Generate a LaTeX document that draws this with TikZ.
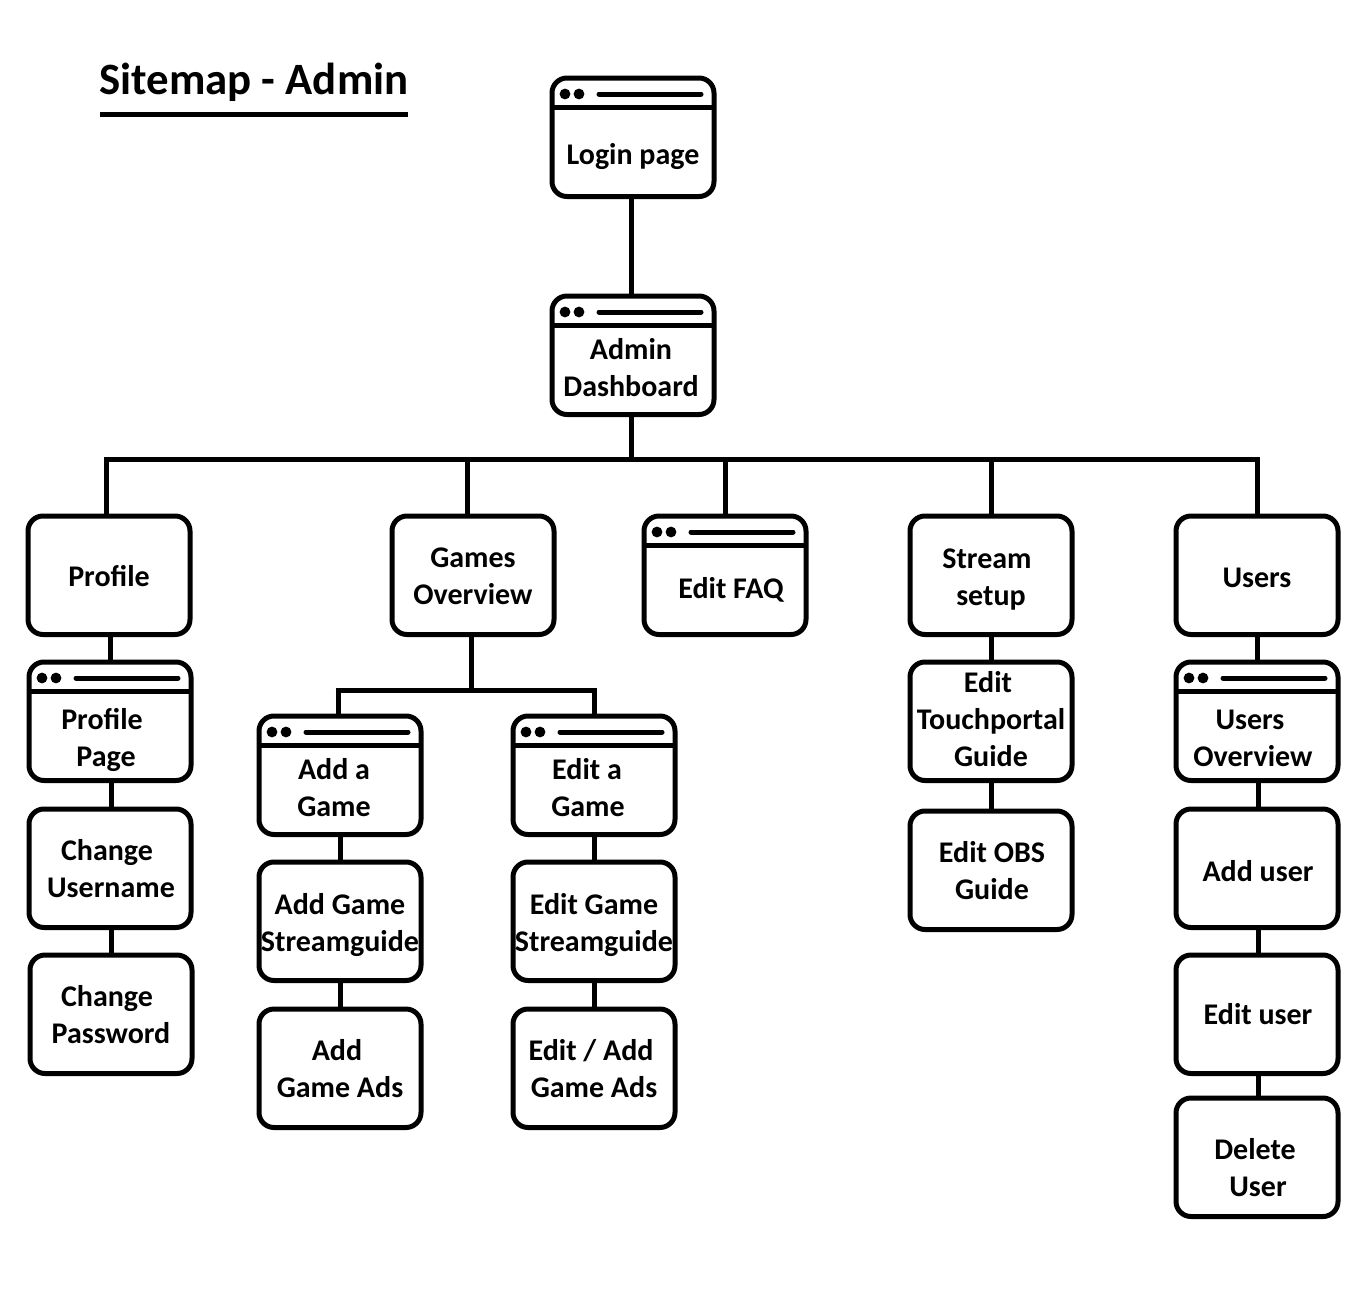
\documentclass[tikz,border=0pt]{standalone}
\usepackage{fontspec}
\setmainfont{Carlito}[BoldFont={Carlito Bold}]
\usetikzlibrary{calc}
\newcommand\lnsh[2]{\leavevmode\hbox{\strut\kern#1pt #2\kern-#1pt}}
\tikzset{
  sitebox/.style={draw=black,line width=5pt,rounded corners=15pt,fill=none,inner sep=0pt,outer sep=0pt,minimum width=162pt,minimum height=118.5pt},
  lbl/.style={inner sep=0pt,outer sep=0pt,yshift=-2pt,align=center,text=black,font=\fontsize{30}{37}\selectfont\bfseries},
  link/.style={draw=black,line width=5pt},
  headline/.style={draw=black,line width=5pt},
  urlbar/.style={draw=black,line width=5pt,line cap=round},
  winbtn/.style={fill=black,draw=none}
}
% plain box: name, left, top
\newcommand\bx[3]{\node[sitebox] (#1) at (#2+81,#3+59.25) {};}
% window box: adds the title bar
\newcommand\wn[3]{\bx{#1}{#2}{#3}
  \draw[headline] ($(#1.north west)+(0,29)$) -- ($(#1.north east)+(0,29)$);
  \fill[winbtn] ($(#1.north west)+(13,16)$) circle[radius=5.4];
  \fill[winbtn] ($(#1.north west)+(27,16)$) circle[radius=5.4];
  \draw[urlbar] ($(#1.north west)+(47,16)$) -- ($(#1.north east)+(-13,16)$);}
\begin{document}
\begin{tikzpicture}[x=1pt,y=-1pt]
\useasboundingbox[fill=white] (0,0) rectangle (1366,1301);
% title
\node[inner sep=0pt,outer sep=0pt,font=\fontsize{44.8}{48}\selectfont\bfseries] (title) at (254,82) {Sitemap - Admin};
\coordinate (ulA) at (100,114); \coordinate (ulB) at (408,114);
\draw[line width=5pt] (ulA) -- (ulB);
% boxes
\wn{login}{552}{78}
\wn{admin}{552}{296}
\bx{profile}{28}{516}
\bx{games}{392}{516}
\wn{faq}{644}{516}
\bx{stream}{910}{516}
\bx{users}{1176}{516}
\wn{ppage}{29}{662}
\bx{cuser}{29}{809}
\bx{cpass}{30}{955}
\wn{addgame}{259}{716}
\bx{addguide}{259}{862}
\bx{addads}{259}{1009}
\wn{editgame}{513}{716}
\bx{editguide}{513}{862}
\bx{editads}{513}{1009}
\bx{touch}{910}{662}
\bx{obs}{910}{811}
\wn{uover}{1176}{662}
\bx{uadd}{1176}{809}
\bx{uedit}{1176}{955}
\bx{udel}{1176}{1098}
% labels
\node[lbl] (tlogin) at (633,155) {\lnsh{0}{Login page}};
\node[lbl] (tadmin) at (631,368.5) {\lnsh{0}{Admin}\\\lnsh{0}{Dashboard}};
\node[lbl] (tprofile) at (109,577) {\lnsh{0}{Profile}};
\node[lbl] (tgames) at (473,576.5) {\lnsh{0}{Games}\\\lnsh{0}{Overview}};
\node[lbl] (tfaq) at (731,589) {\lnsh{0}{Edit FAQ}};
\node[lbl] (tstream) at (989,577.5) {\lnsh{-2}{Stream}\\\lnsh{2}{setup}};
\node[lbl] (tusers) at (1257,578) {\lnsh{0}{Users}};
\node[lbl] (tppage) at (104,738.5) {\lnsh{-2}{Profile}\\\lnsh{2}{Page}};
\node[lbl] (tcuser) at (111,869.5) {\lnsh{-4}{Change}\\\lnsh{0}{Username}};
\node[lbl] (tcpass) at (111,1015.5) {\lnsh{-4}{Change}\\\lnsh{0}{Password}};
\node[lbl] (taddgame) at (334,788.5) {\lnsh{0}{Add a}\\\lnsh{0}{Game}};
\node[lbl] (taddguide) at (340,923.5) {\lnsh{0}{Add Game}\\\lnsh{0}{Streamguide}};
\node[lbl] (taddads) at (340,1069.5) {\lnsh{-3}{Add}\\\lnsh{0}{Game Ads}};
\node[lbl] (teditgame) at (588,788.5) {\lnsh{-1}{Edit a}\\\lnsh{0}{Game}};
\node[lbl] (teditguide) at (594,923.5) {\lnsh{0}{Edit Game}\\\lnsh{0}{Streamguide}};
\node[lbl] (teditads) at (594,1069.5) {\lnsh{-3}{Edit / Add}\\\lnsh{0}{Game Ads}};
\node[lbl] (ttouch) at (991,720) {\lnsh{-3}{Edit}\\\lnsh{0}{Touchportal}\\\lnsh{0}{Guide}};
\node[lbl] (tobs) at (992,871.5) {\lnsh{0}{Edit OBS}\\\lnsh{0}{Guide}};
\node[lbl] (tuover) at (1253,738.5) {\lnsh{-3}{Users}\\\lnsh{0}{Overview}};
\node[lbl] (tuadd) at (1258,872) {\lnsh{0}{Add user}};
\node[lbl] (tuedit) at (1258,1015) {\lnsh{0}{Edit user}};
\node[lbl] (tudel) at (1256.5,1168.5) {\lnsh{-1.5}{Delete}\\\lnsh{1.5}{User}};
% connectors
\coordinate (hub) at (631,459);
\coordinate (j1) at (106,459);
\coordinate (j2) at (467,459);
\coordinate (j3) at (725,459);
\coordinate (j4) at (991,459);
\coordinate (j5) at (1257,459);
\draw[link] ($(j1)+(-2.5,0)$) -- ($(j5)+(2.5,0)$);
\draw[link] (login.south -| hub) -- (admin.north -| hub);
\draw[link] (admin.south -| hub) -- (hub);
\draw[link] (j1) -- (j1 |- profile.north);
\draw[link] (j2) -- (j2 |- games.north);
\draw[link] (j3) -- (j3 |- faq.north);
\draw[link] (j4) -- (j4 |- stream.north);
\draw[link] (j5) -- (j5 |- users.north);
\coordinate (c1) at (110,0);
\coordinate (c2) at (111,0);
\draw[link] (c1 |- profile.south) -- (c1 |- ppage.north);
\draw[link] (c2 |- ppage.south) -- (c2 |- cuser.north);
\draw[link] (c2 |- cuser.south) -- (c2 |- cpass.north);
% games branch
\coordinate (g0) at (471,690);
\coordinate (g1) at (338,690);
\coordinate (g2) at (594,690);
\draw[link] (g0 |- games.south) -- (g0);
\draw[link] ($(g1)+(-2.5,0)$) -- ($(g2)+(2.5,0)$);
\draw[link] (g1) -- (g1 |- addgame.north);
\draw[link] (g2) -- (g2 |- editgame.north);
\coordinate (c3) at (340,0);
\draw[link] (c3 |- addgame.south) -- (c3 |- addguide.north);
\draw[link] (c3 |- addguide.south) -- (c3 |- addads.north);
\draw[link] (g2 |- editgame.south) -- (g2 |- editguide.north);
\draw[link] (g2 |- editguide.south) -- (g2 |- editads.north);
% stream
\draw[link] (j4 |- stream.south) -- (j4 |- touch.north);
\draw[link] (j4 |- touch.south) -- (j4 |- obs.north);
% users
\coordinate (c5) at (1258,0);
\draw[link] (j5 |- users.south) -- (j5 |- uover.north);
\draw[link] (c5 |- uover.south) -- (c5 |- uadd.north);
\draw[link] (c5 |- uadd.south) -- (c5 |- uedit.north);
\draw[link] (c5 |- uedit.south) -- (c5 |- udel.north);
\end{tikzpicture}
\end{document}
